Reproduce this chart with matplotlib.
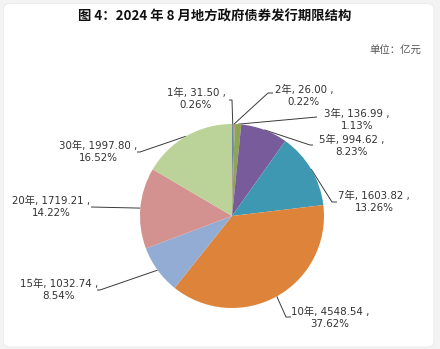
import numpy as np
import matplotlib
matplotlib.use("Agg")
import matplotlib.pyplot as plt
from matplotlib.patches import FancyBboxPatch

plt.rcParams['font.family'] = ['DejaVu Sans', 'Noto Sans CJK SC']

# Issuance by maturity, 100 million yuan
terms = ["1年", "2年", "3年", "5年", "7年", "10年", "15年", "20年", "30年"]
amounts = [31.50, 26.00, 136.99, 994.62, 1603.82, 4548.54, 1032.74, 1719.21, 1997.80]
colors = ["#6c87ab", "#c0703c", "#8ca654", "#775b9b", "#3f98b1",
          "#dd843a", "#93acd4", "#d39290", "#bbd398"]

title = "图 4：2024 年 8 月地方政府债券发行期限结构"
unit = "单位：亿元"

W, H = 440, 349
fig = plt.figure(figsize=(W / 100, H / 100), dpi=100, facecolor="#f3f3f3")

# overlay axes in pixel coordinates for card, labels and leader lines
ov = fig.add_axes([0, 0, 1, 1])
ov.set_xlim(0, W)
ov.set_ylim(H, 0)
ov.axis("off")
ov.add_patch(FancyBboxPatch((3.5, 3.5), 430.5, 343.5,
                            boxstyle="round,pad=0,rounding_size=6",
                            facecolor="white", edgecolor="#ececec", lw=0.8, zorder=0))

# pie geometry (pixels)
cx, cy, r = 232, 216, 92
pie_ax = fig.add_axes([(cx - r) / W, (H - cy - r) / H, 2 * r / W, 2 * r / H])
pie_ax.pie(amounts, colors=colors, startangle=90, counterclock=False, radius=1,
           wedgeprops=dict(linewidth=0))
pie_ax.set_xlim(-1, 1)
pie_ax.set_ylim(-1, 1)
pie_ax.axis("off")

ov.text(215, 17, title, ha="center", va="center", fontsize=9.6, fontweight="bold",
        family=["Noto Sans CJK SC"], color="#111111")
ov.text(421, 51, unit, ha="right", va="center", fontsize=7.5,
        family=["Noto Sans CJK SC"], color="#555555")

# label layout: text center, knee point, tail end
layout = {
    "1年": ((196, 99), (232, 100), (229, 100)),
    "2年": ((304, 96), (268, 93), (273, 93)),
    "3年": ((357, 120), (317, 117), (317, 117)),
    "5年": ((352, 146), (310, 145), (313, 145)),
    "7年": ((374, 202), (332, 202), (337, 202)),
    "10年": ((330, 318), (286, 317), (291, 317)),
    "15年": ((59, 290), (100, 290), (97, 290)),
    "20年": ((51, 207), (91, 207), (91, 207)),
    "30年": ((98, 152), (140, 152), (137, 152)),
}

total = sum(amounts)
cum = np.cumsum([0] + amounts)
for i, (name, val) in enumerate(zip(terms, amounts)):
    mid = (cum[i] + cum[i + 1]) / 2 / total * 2 * np.pi
    ex, ey = cx + r * np.sin(mid), cy - r * np.cos(mid)
    (tx, ty), (kx, ky), (sx, sy) = layout[name]
    ov.plot([ex, kx, sx], [ey, ky, sy], color="#3a3a3a", lw=0.7,
            solid_capstyle="butt", zorder=1)
    pct = val / total * 100
    ov.text(tx, ty, f"{name}, {val:.2f} ,\n{pct:.2f}%", ha="center", va="center",
            multialignment="center", fontsize=7.4, color="#333333",
            linespacing=1.2, zorder=3)

fig.savefig("out.png", dpi=100, facecolor=fig.get_facecolor())
